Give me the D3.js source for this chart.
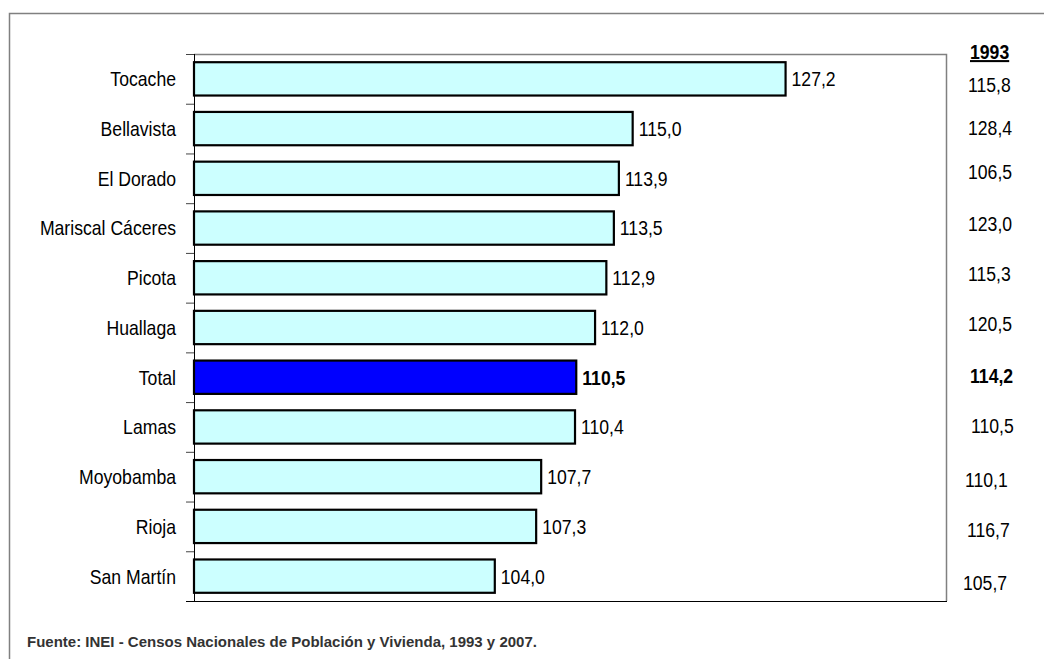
<!DOCTYPE html>
<html><head><meta charset="utf-8">
<script src="https://cdn.jsdelivr.net/npm/d3@7"></script>
<style>body{margin:0;background:#fff}svg{display:block}</style>
</head><body>
<svg id="c" width="1044" height="659"></svg>
<script>
const categories = ["Tocache","Bellavista","El Dorado","Mariscal Cáceres","Picota","Huallaga","Total","Lamas","Moyobamba","Rioja","San Martín"];
const values2007 = [127.2,115.0,113.9,113.5,112.9,112.0,110.5,110.4,107.7,107.3,104.0];
const values1993 = [115.8,128.4,106.5,123.0,115.3,120.5,114.2,110.5,110.1,116.7,105.7];
const header1993 = "1993";
const source = "Fuente: INEI - Censos Nacionales de Población y Vivienda, 1993 y 2007.";

const FONT = "'Liberation Sans',Arial,sans-serif";
const FS = 20.5, SX = 0.86;
const svg = d3.select("#c");
const fmt = v => d3.format(".1f")(v).replace(".", ",");

// condense text horizontally (narrow face look)
function squeeze(sel){
  sel.each(function(){
    const t = d3.select(this);
    const x0 = +(t.attr("x")||0), y0 = +(t.attr("y")||0);
    t.attr("x",0).attr("y",0).attr("transform",`translate(${x0},${y0}) scale(${SX},1)`);
  });
}

// outer frame
svg.append("rect").attr("x",9.5).attr("y",13.5).attr("width",1100).attr("height",700)
  .attr("fill","none").attr("stroke","#808080").attr("stroke-width",1.5);

const L=194, R=946, T=54, B=601;
const x = d3.scaleLinear().domain([80,140]).range([L,R]);
const y = d3.scaleBand().domain(categories).range([T,B]).paddingInner(0.33).paddingOuter(0.165);
const yTicks = d3.scaleBand().domain(categories).range([T,B]);

// plot area border (top/right gray)
svg.append("path").attr("d",`M${L},${T+0.5}H${R+0.5}V${B}`).attr("fill","none").attr("stroke","#808080").attr("stroke-width",1.5);

// bars
svg.selectAll("rect.bar").data(categories).join("rect").attr("class","bar")
  .attr("x",x(80)).attr("y",d=>y(d)).attr("height",y.bandwidth())
  .attr("width",(d,i)=>x(values2007[i])-x(80))
  .attr("fill",d=>d==="Total"?"#0000ff":"#ccffff")
  .attr("stroke","#000").attr("stroke-width",2.2);

// category axis
const yAxis = d3.axisLeft(yTicks).tickSize(0).tickPadding(18);
const ga = svg.append("g").attr("transform",`translate(${L},0)`).call(yAxis);
ga.select(".domain").remove();
ga.selectAll("text").attr("font-family",FONT).attr("font-size",FS).attr("fill","#000").attr("dy","0.36em");
squeeze(ga.selectAll("text"));
// tick marks at band boundaries
const bounds = categories.map(c=>yTicks(c)).concat([B]);
svg.selectAll("line.tk").data(bounds).join("line").attr("class","tk")
  .attr("x1",L-8).attr("x2",L).attr("y1",d=>d+0.5).attr("y2",d=>d+0.5)
  .attr("stroke","#444").attr("stroke-width",1);
svg.append("line").attr("x1",L+0.5).attr("x2",L+0.5).attr("y1",T).attr("y2",B).attr("stroke","#000").attr("stroke-width",1);
svg.append("line").attr("x1",L-8).attr("x2",R+1).attr("y1",B+0.5).attr("y2",B+0.5).attr("stroke","#000").attr("stroke-width",1.2);

// value labels
const vl = svg.selectAll("text.val").data(categories).join("text").attr("class","val")
  .attr("x",(d,i)=>x(values2007[i])+6).attr("y",d=>y(d)+y.bandwidth()/2)
  .attr("dy","0.36em").attr("font-family",FONT).attr("font-size",FS)
  .attr("font-weight",d=>d==="Total"?"bold":"normal")
  .text((d,i)=>fmt(values2007[i]));
squeeze(vl);

// 1993 column
const hd = svg.append("text").attr("x",970).attr("y",59).attr("font-family",FONT).attr("font-size",FS)
  .attr("font-weight","bold").attr("text-decoration","underline").text(header1993);
squeeze(hd);
const y93 = [92,135,179,231,281,331,383,433,487,537,590];
const x93 = [968,968,968,968,968,968,970,971,965,967,963];
const v93 = svg.selectAll("text.v93").data(categories).join("text").attr("class","v93")
  .attr("x",(d,i)=>x93[i]).attr("y",(d,i)=>y93[i])
  .attr("font-family",FONT).attr("font-size",FS)
  .attr("font-weight",d=>d==="Total"?"bold":"normal")
  .text((d,i)=>fmt(values1993[i]));
squeeze(v93);

// source
svg.append("text").attr("x",27).attr("y",647).attr("font-family",FONT).attr("font-size",15)
  .attr("font-weight","bold").attr("fill","#333").text(source);
</script>
</body></html>
